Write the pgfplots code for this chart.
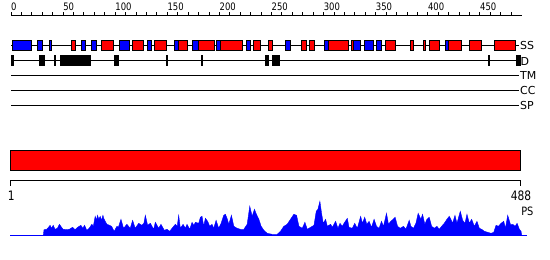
\documentclass[border=0pt]{standalone}
\usepackage{pgfplots}
\pgfplotsset{compat=1.18}
\usepackage{fontspec}
\setmainfont{DejaVu Sans}
\usepackage{graphicx}
\definecolor{ssblue}{RGB}{0,0,255}
\definecolor{ssred}{RGB}{255,0,0}
% secondary-structure box: colour, start residue, end residue
\newcommand\ssb[3]{\addplot[fill=#1,draw=black,line width=1pt] coordinates {(#2,40.5)(#3,40.5)(#3,50)(#2,50)} -- cycle;}
% disorder box: start residue, end residue
\newcommand\db[2]{\addplot[fill=black,draw=black,line width=1pt] coordinates {(#1,55.5)(#2,55.5)(#2,65.5)(#1,65.5)} -- cycle;}
\newcommand\toplab[1]{\scalebox{0.82}[1]{#1}}
\begin{document}
\begin{tikzpicture}
\useasboundingbox (0,0) rectangle (550pt,260pt);
% ---------------- main panel: residue vs. pixel row (top down)
\begin{axis}[at={(0,0)}, anchor=south west, width=550pt, height=260pt, scale only axis,
  xmin=-10.555, xmax=517.18, ymin=0, ymax=260, y dir=reverse, hide axis, clip=false]
% top ruler
\addplot[black, line width=1pt] coordinates {(0,15.5)(490,15.5)};
\pgfplotsinvokeforeach{0,10,...,480}{\draw[black,line width=1pt] (axis cs:#1,15.5) -- (axis cs:#1,12.2);}
\pgfplotsinvokeforeach{0,50,...,450}{\node[anchor=base west, inner sep=0pt, font=\fontsize{10.3}{11}\selectfont] at (axis cs:#1,10.9) {\toplab{#1}};}
% SS track
\addplot[black, line width=1pt] coordinates {(0,45.5)(487.7,45.5)};
\ssb{ssblue}{1.8}{19.5}
\ssb{ssblue}{25.5}{30.5}
\ssb{ssblue}{36.5}{38.5}
\ssb{ssred}{58.5}{61.5}
\ssb{ssblue}{67.5}{71.5}
\ssb{ssblue}{77.5}{82.5}
\ssb{ssred}{86.5}{98.5}
\ssb{ssblue}{104.5}{113.5}
\ssb{ssred}{116.5}{127.5}
\ssb{ssblue}{130.5}{134.5}
\ssb{ssred}{137.5}{149.5}
\ssb{ssblue}{156.5}{160.5}
\ssb{ssred}{160.5}{169}
\ssb{ssblue}{174.5}{179.5}
\ssb{ssred}{179.5}{195.5}
\ssb{ssblue}{197.5}{201}
\ssb{ssred}{201}{222.5}
\ssb{ssblue}{225.5}{230}
\ssb{ssred}{232.5}{239.5}
\ssb{ssred}{247.5}{250.5}
\ssb{ssblue}{263.5}{268.5}
\ssb{ssred}{278.5}{283.5}
\ssb{ssred}{286.5}{291.5}
\ssb{ssblue}{300.5}{305}
\ssb{ssred}{305}{323.5}
\ssb{ssred}{326.5}{329}
\ssb{ssblue}{329}{335.5}
\ssb{ssblue}{339.5}{347.5}
\ssb{ssblue}{350.5}{355.5}
\ssb{ssred}{359.5}{368.5}
\ssb{ssred}{383.5}{386.5}
\ssb{ssred}{395.5}{397.5}
\ssb{ssred}{401.5}{411.5}
\ssb{ssblue}{416.5}{420}
\ssb{ssred}{420}{432.5}
\ssb{ssred}{439.5}{451.5}
\ssb{ssred}{463.5}{484.5}
% D track
\addplot[black, line width=1pt] coordinates {(0,60.5)(487.7,60.5)};
\db{0}{2.5}
\db{27.5}{32.5}
\db{41.5}{42.5}
\db{47.5}{76.5}
\db{99.5}{103.5}
\db{149.6}{150.4}
\db{182.4}{183.4}
\db{244.5}{247.5}
\db{250.5}{258}
\db{458.2}{459.6}
\db{485.5}{488.5}
% TM, CC, SP tracks
\addplot[black, line width=1pt] coordinates {(0,75.5)(487.7,75.5)};
\addplot[black, line width=1pt] coordinates {(0,90.5)(487.7,90.5)};
\addplot[black, line width=1pt] coordinates {(0,105.5)(487.7,105.5)};
\node[anchor=west, inner sep=0pt, font=\fontsize{11}{12}\selectfont] at (axis cs:488.3,45.5) {SS};
\node[anchor=west, inner sep=0pt, font=\fontsize{11}{12}\selectfont] at (axis cs:488.8,61) {D};
\node[anchor=west, inner sep=0pt, font=\fontsize{11}{12}\selectfont] at (axis cs:488.3,75.5) {TM};
\node[anchor=west, inner sep=0pt, font=\fontsize{11}{12}\selectfont] at (axis cs:488.3,90.5) {CC};
\node[anchor=west, inner sep=0pt, font=\fontsize{11}{12}\selectfont] at (axis cs:488.3,105.5) {SP};
% domain bar
\addplot[fill=ssred, draw=black, line width=1pt] coordinates {(-0.5,150.5)(489.3,150.5)(489.3,170.3)(-0.5,170.3)} -- cycle;
% bottom ruler
\addplot[black, line width=1pt] coordinates {(-0.5,185.5)(-0.5,180.5)(488.8,180.5)(488.8,185.5)};
\node[anchor=base, inner sep=0pt, font=\fontsize{13}{14}\selectfont] at (axis cs:0.3,200.3) {\scalebox{0.82}[1]{1}};
\node[anchor=base, inner sep=0pt, font=\fontsize{13}{14}\selectfont] at (axis cs:489.3,200.3) {\scalebox{0.82}[1]{488}};
\node[anchor=west, inner sep=0pt, font=\fontsize{11.5}{12}\selectfont] at (axis cs:489.5,211) {\scalebox{0.85}[1]{PS}};
\end{axis}
% ---------------- PS profile: residue vs. height in pixels above the baseline
\begin{axis}[at={(0,0)}, anchor=south west, width=550pt, height=260pt, scale only axis,
  xmin=-10.555, xmax=517.18, ymin=-24.7, ymax=235.3, hide axis, clip=false]
\addplot[fill=ssblue, draw=ssblue, line width=0.4pt] coordinates {
(31,0)(31.7,5.7)(34.3,6)(36,8)(37.5,10)(39,7)(40.5,10)(42.3,6)(44.5,7)(46.5,11)(48.5,8)(50,6)
(53.5,5.7)(56,6)(59,8)(61.5,5.7)(64,8)(67,10)(69,7)(70.5,10)(72.8,5)(75,7)(77.6,11)(79,9)
(80.8,19)(82,15)(83,20)(84.3,16)(85.6,19)(87,15)(88.2,20)(89,17)(90.4,14)(92,11)(94.6,10)(96.5,9)
(99,4)(101.6,9)(103,8)(105.5,16)(108,7)(111.2,11)(114.4,7)(116.7,15)(119.2,7)(122.5,12)(125.6,10)
(127.5,12)(128.9,20)(131.1,10)(133.7,12)(136.9,6)(138.5,13)(141.7,7)(143.9,11)(147.1,5)(149.7,6)
(152.3,4)(154.5,7)(157.7,11)(159.5,9)(160.9,20)(162.5,7)(165.1,11)(167.3,7)(168.9,11)(171.5,6)
(173.7,13)(175.5,10)(176.9,13)(180.1,12)(181.7,18)(183.3,19)(184.9,9)(186.5,17)(188.7,14)(190.7,9)
(192.9,11)(194.5,7)(196.8,15)(199.3,7)(201.6,12)(204.1,20)(205.7,21)(207.3,17)(209,11)(211.5,20)
(213.8,9)(217,7)(220.2,6)(223.4,6)(226.6,11)(229.1,29)(231.4,19)(233.6,26)(235.5,21)(237.8,16)
(240,9)(242.6,5)(245.8,2)(250.6,1)(255.4,1)(258.6,4)(261.8,9)(265,11)(268.2,16)(271.4,21)(274,20)
(276.3,9)(279.5,7)(282,13)(284.3,6)(287.5,8)(290.7,10)(292.9,24)(294.5,26)(296.4,34)(298,22)
(299.6,12)(301.9,16)(303.5,9)(306.7,11)(308.3,8)(311.5,14)(313.7,7)(315.7,12)(317.9,9)(319.5,12)
(322.7,17)(324.3,8)(327.5,7)(329.8,12)(332.3,7)(335.5,19)(337.2,12)(339.4,18)(341.4,11)(343.6,14)
(345.9,8)(348.4,16)(350.7,9)(353.2,7)(355.5,14)(357.4,9)(360.3,22)(362.2,11)(364.4,14)(366.7,16)
(368.6,18)(370.9,9)(373.4,7)(376.6,9)(378.9,6)(382.1,15)(383.7,9)(386.2,7)(388.5,12)(390.7,22)
(393.3,16)(394.9,21)(397.1,11)(399.1,16)(401.3,18)(403.6,9)(406.1,7)(408.7,9)(410.9,6)(413.2,9)
(415.7,12)(418.3,16)(420.5,19)(422.1,16)(423.7,12)(426,20)(427.9,12)(431.1,24)(433.4,15)(435.6,12)
(437.5,21)(439.8,12)(442,16)(444.6,9)(447.1,14)(449.4,7)(451.6,6)(454.2,4)(457.4,3)(460.6,2)
(463.2,3)(465.4,10)(467.7,9)(470.2,12)(472.8,14)(474.4,7)(476.6,20)(479.2,11)(481.4,11)(483.7,9)
(485.6,12)(487.8,6)(489.4,4)(490,0)} \closedcycle;
\addplot[ssblue, line width=1.2pt] coordinates {(-0.5,0)(495,0)};
\end{axis}
\end{tikzpicture}
\end{document}
